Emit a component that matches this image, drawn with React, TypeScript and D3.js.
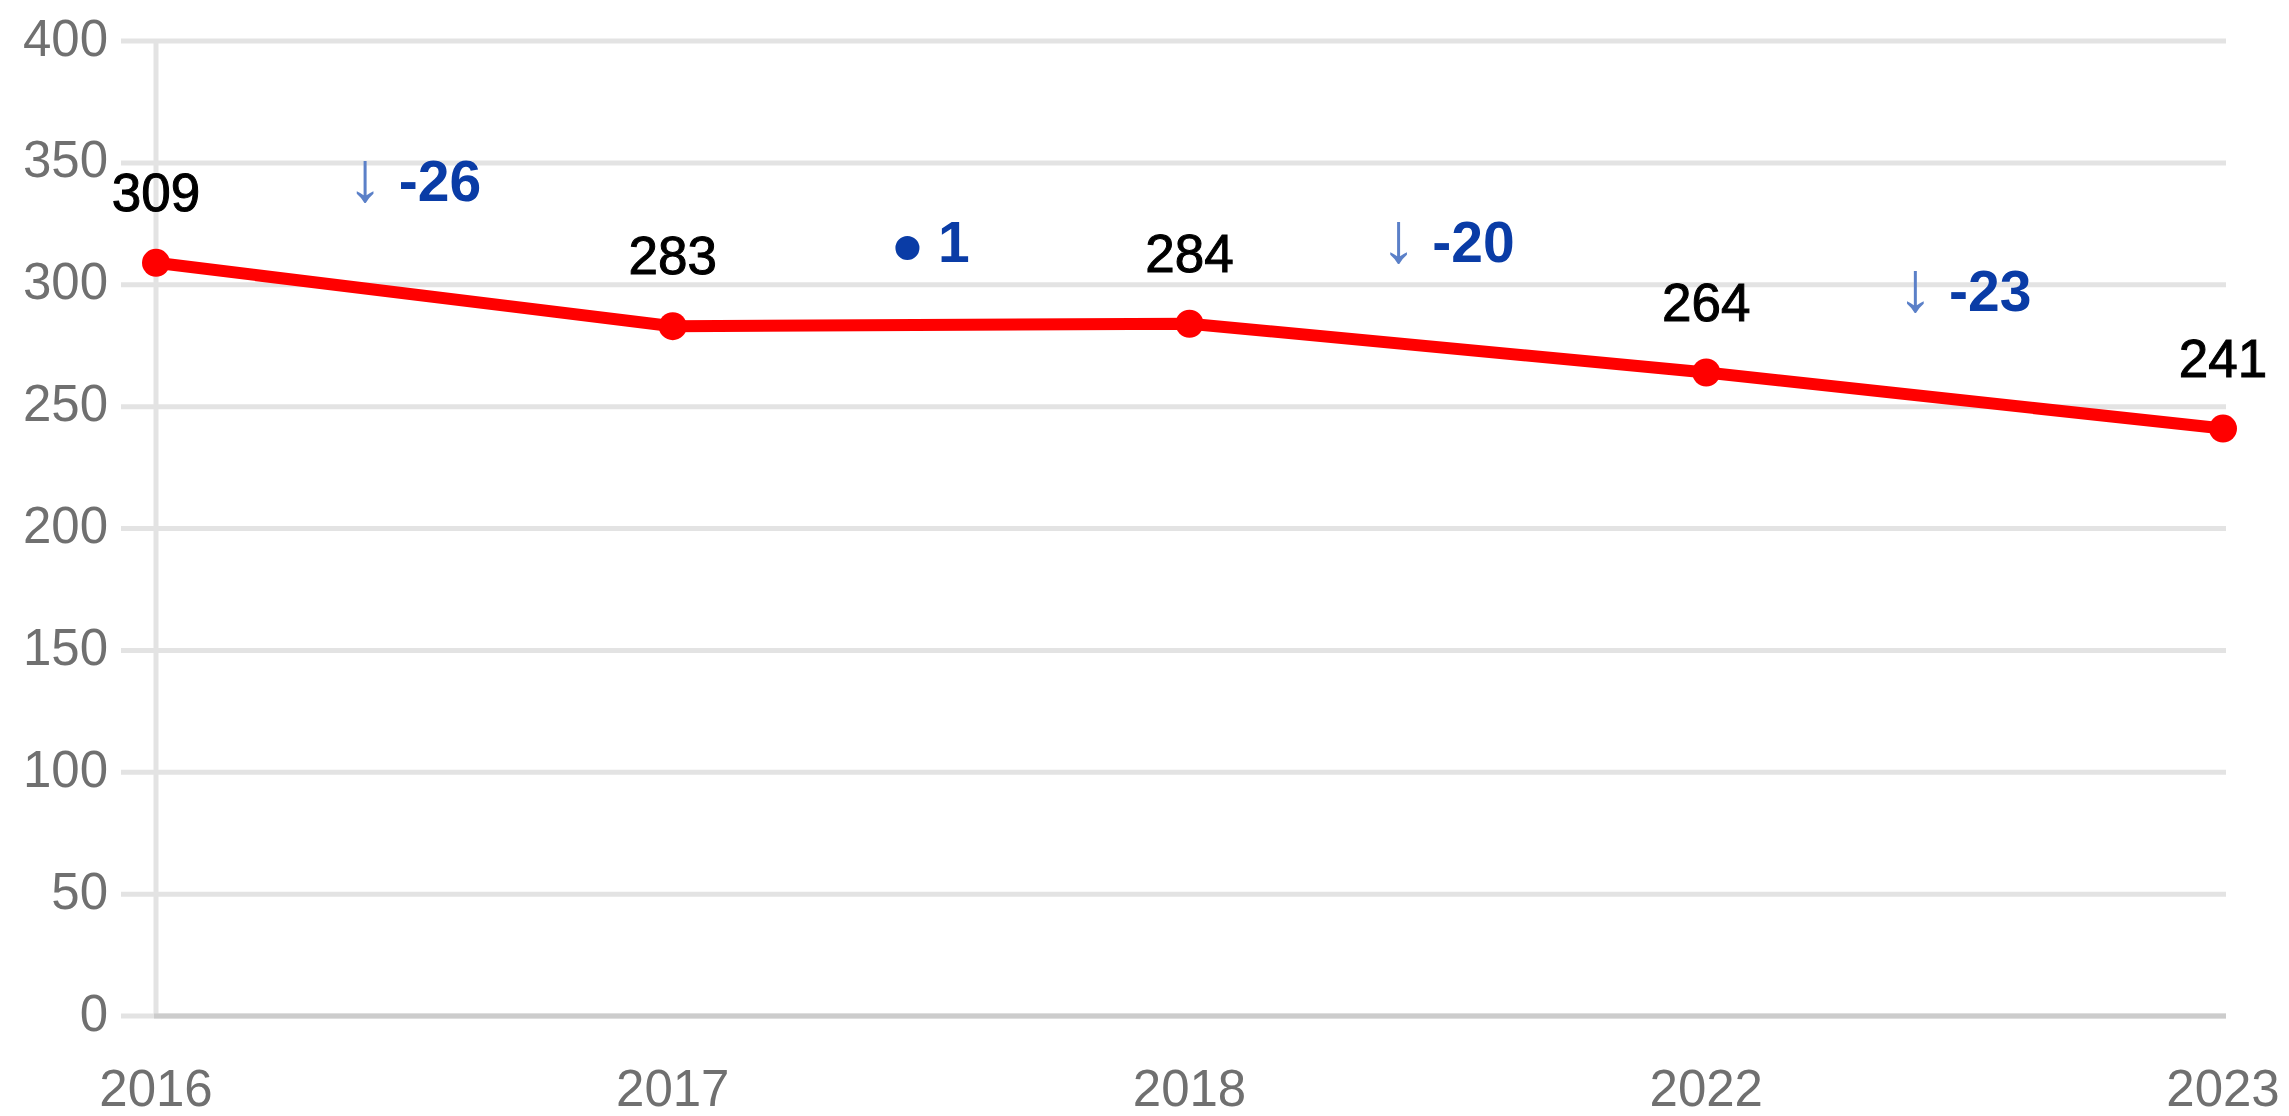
import * as d3 from "d3";

const years = ["2016", "2017", "2018", "2022", "2023"];
const values = [309, 283, 284, 264, 241];
const changes = [-26, 1, -20, -23];
const changeMarks = ["↓", "•", "↓", "↓"];
const yTicks = [0, 50, 100, 150, 200, 250, 300, 350, 400];

const W = 2289;
const H = 1116;
const FONT = "'Liberation Sans', Arial, sans-serif";

const App = () => {
  const x = d3.scalePoint<string>().domain(years).range([156, 2223]);
  const y = d3.scaleLinear().domain([0, 400]).range([1016, 41]);

  const points = years.map((yr, i) => ({ yr, v: values[i] }));
  const line = d3
    .line<{ yr: string; v: number }>()
    .x((d) => x(d.yr) as number)
    .y((d) => y(d.v));

  const gridLeft = 121;
  const gridRight = 2226;

  return (
    <svg
      width={W}
      height={H}
      style={{ position: "absolute", left: 0, top: 0, background: "#fff" }}
      fontFamily={FONT}
    >
      {/* horizontal grid */}
      {yTicks.map((t) => (
        <line
          key={"g" + t}
          x1={gridLeft}
          x2={gridRight}
          y1={y(t)}
          y2={y(t)}
          stroke="#e3e3e3"
          strokeWidth={5}
        />
      ))}
      {/* vertical line at first category */}
      <line
        x1={x(years[0])}
        x2={x(years[0])}
        y1={y(400) + 2}
        y2={y(0)}
        stroke="#e3e3e3"
        strokeWidth={5}
      />
      {/* baseline */}
      <line
        x1={(x(years[0]) as number) - 2}
        x2={gridRight}
        y1={y(0)}
        y2={y(0)}
        stroke="#cccccc"
        strokeWidth={5}
      />

      {/* y tick labels */}
      {yTicks.map((t) => (
        <text
          key={"t" + t}
          x={108}
          y={y(t) + 14.5}
          textAnchor="end"
          fontSize={51}
          fill="#707070"
        >
          {t}
        </text>
      ))}

      {/* x labels */}
      {years.map((yr) => (
        <text
          key={"x" + yr}
          x={x(yr)}
          y={1106}
          textAnchor="middle"
          fontSize={51}
          fill="#707070"
        >
          {yr}
        </text>
      ))}

      {/* series line */}
      <path
        d={line(points) || ""}
        fill="none"
        stroke="#ff0000"
        strokeWidth={12}
        strokeLinejoin="round"
      />
      {points.map((p) => (
        <circle key={"c" + p.yr} cx={x(p.yr)} cy={y(p.v)} r={14} fill="#ff0000" />
      ))}

      {/* value labels */}
      {points.map((p) => (
        <text
          key={"l" + p.yr}
          x={x(p.yr)}
          y={y(p.v) - 52}
          textAnchor="middle"
          fontSize={53}
          fill="#000"
          stroke="#000"
          strokeWidth={1}
        >
          {p.v}
        </text>
      ))}

      {/* change annotations */}
      {changes.map((c, i) => {
        const mx = ((x(years[i]) as number) + (x(years[i + 1]) as number)) / 2;
        const top = Math.max(values[i], values[i + 1]);
        const by = y(top) - 62;
        const mark = changeMarks[i];
        return (
          <text
            key={"a" + i}
            x={mx}
            y={by}
            textAnchor="middle"
            fontSize={57}
            fontWeight="bold"
            fill="#0a3ca6"
          >
            {mark === "•" ? (
              <tspan fontSize={84} dy={14} fill="#0a3ca6">
                {mark}
              </tspan>
            ) : (
              <tspan fontSize={71} fontWeight="normal" fill="#5b80c8">
                {mark}
              </tspan>
            )}
            <tspan dy={mark === "•" ? -14 : 0}>{" " + c}</tspan>
          </text>
        );
      })}
    </svg>
  );
};

export default App;
